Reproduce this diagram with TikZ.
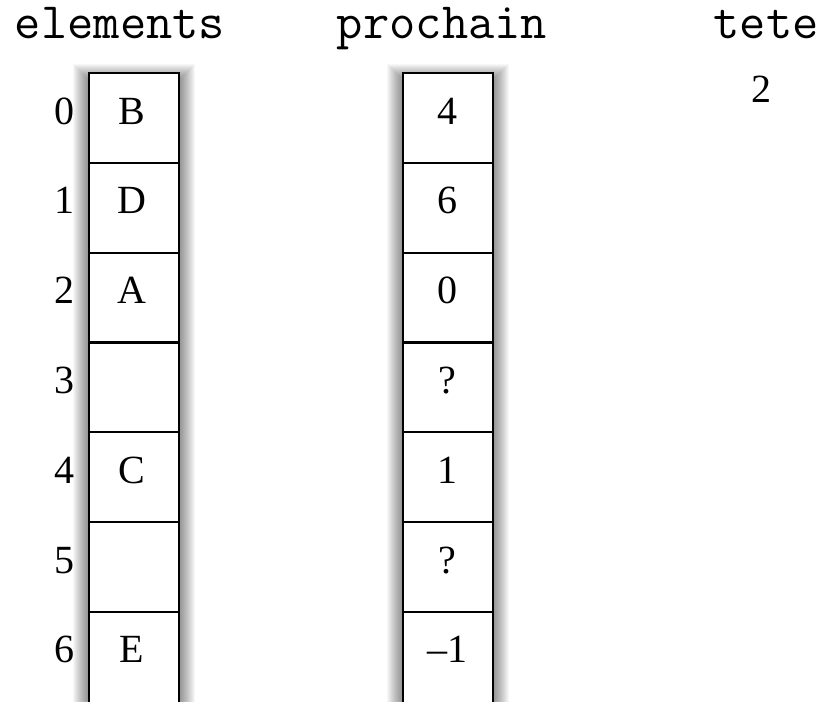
\documentclass[tikz,border=0pt]{standalone}
\usepackage{fontspec}
\setmainfont{Liberation Serif}
\begin{document}
\begin{tikzpicture}[x=1pt,y=-1pt,
  colbox/.style={draw, line width=2.2pt, fill=white},
  shadowlayer/.style={fill=black, fill opacity=0.03},
  divider/.style={line width=2.2pt},
  title/.style={font=\fontsize{51}{51}\selectfont\ttfamily, anchor=base, inner sep=0pt},
  cell/.style={font=\fontsize{40}{40}\selectfont, anchor=base, inner sep=0pt},
  idx/.style={font=\fontsize{40}{40}\selectfont, anchor=base east, inner sep=0pt}]
\useasboundingbox (0,0) rectangle (829,701);
\clip (0,0) rectangle (829,701);
\fill[white] (0,0) rectangle (829,701);

% titles
\node[title] (telem) at (120,39) {elements};
\node[title] (tproc) at (442,39) {prochain};
\node[title] (ttete) at (766,39) {tete};
\node[cell] (vtete) at (761,102) {2};

% shadows
\foreach \i in {1,...,16} {
  \fill[shadowlayer] ({89-\i},{80-\i}) rectangle ({179+\i},740);
  \fill[shadowlayer] ({403-\i},{80-\i}) rectangle ({493+\i},740);
}

% columns
\path[colbox] (89,73) rectangle (179,740);
\path[colbox] (403,73) rectangle (493,740);
\foreach \k in {1,...,6} {
  \draw[divider] (89,{73+89.8*\k}) -- (179,{73+89.8*\k});
  \draw[divider] (403,{73+89.8*\k}) -- (493,{73+89.8*\k});
}

% indices
\foreach \k in {0,...,6} {
  \node[idx] (i\k) at (75,{124+89.8*\k}) {\k};
}

% elements
\node[cell] (e0) at (132,{124+89.8*0}) {B};
\node[cell] (e1) at (132,{124+89.8*1}) {D};
\node[cell] (e2) at (132,{124+89.8*2}) {A};
\node[cell] (e4) at (132,{124+89.8*4}) {C};
\node[cell] (e6) at (132,{124+89.8*6}) {E};

% prochain
\node[cell] (p0) at (447,{124+89.8*0}) {4};
\node[cell] (p1) at (447,{124+89.8*1}) {6};
\node[cell] (p2) at (447,{124+89.8*2}) {0};
\node[cell] (p3) at (447,{124+89.8*3}) {?};
\node[cell] (p4) at (447,{124+89.8*4}) {1};
\node[cell] (p5) at (447,{124+89.8*5}) {?};
\node[cell] (p6) at (447,{124+89.8*6}) {--1};
\end{tikzpicture}
\end{document}
